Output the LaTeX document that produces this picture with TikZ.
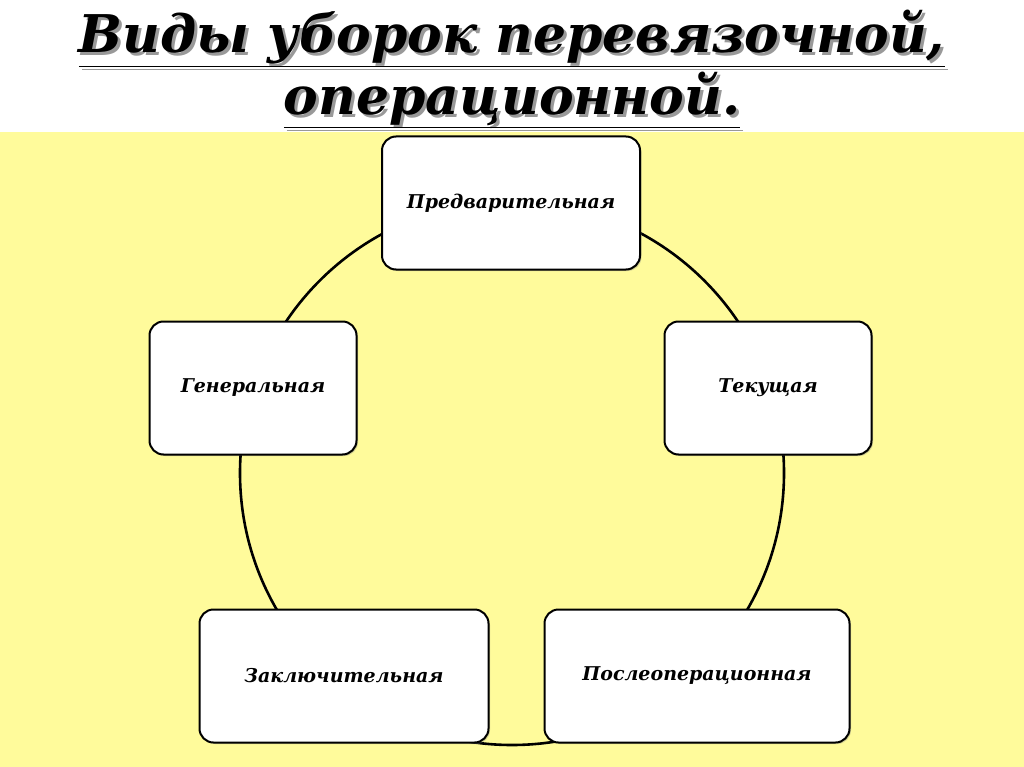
\documentclass[tikz,border=0pt]{standalone}
\usepackage{fontspec}
\setmainfont{DejaVu Serif}
\usetikzlibrary{shadows}
\definecolor{bgy}{RGB}{255,251,155}
\newcommand{\shtxt}[1]{\rlap{\hspace{3pt}\raisebox{-3pt}{\textcolor{black!40}{\underline{#1}}}}\underline{#1}}
\begin{document}
\begin{tikzpicture}[x=1pt,y=-1pt,
  box/.style={draw=black,line width=2pt,fill=white,rounded corners=14pt,
    drop shadow={shadow xshift=1.5pt,shadow yshift=-1.5pt,opacity=0.35},
    font=\bfseries\itshape\fontsize{19}{22}\selectfont,inner sep=0pt},
  ttl/.style={font=\bfseries\itshape\fontsize{52}{60}\selectfont}]
\useasboundingbox (0,0) rectangle (1024,767);
\fill[white] (0,0) rectangle (1024,132);
\fill[bgy] (0,132) rectangle (1024,767);
\node[ttl] (t1) at (512,40) {\shtxt{Виды уборок перевязочной,}};
\node[ttl] (t2) at (512,101) {\shtxt{операционной.}};
\node[draw,line width=2.6pt,circle,minimum size=544pt] (c) at (512,473) {};
\node[box,minimum width=258pt,minimum height=133pt] (a) at (511,203) {Предварительная};
\node[box,minimum width=207pt,minimum height=133pt] (b) at (768,388) {Текущая};
\node[box,minimum width=305pt,minimum height=133pt] (d) at (697,676) {Послеоперационная};
\node[box,minimum width=289pt,minimum height=133pt] (e) at (344,676) {Заключительная};
\node[box,minimum width=207pt,minimum height=133pt] (f) at (253,388) {Генеральная};
\end{tikzpicture}
\end{document}
